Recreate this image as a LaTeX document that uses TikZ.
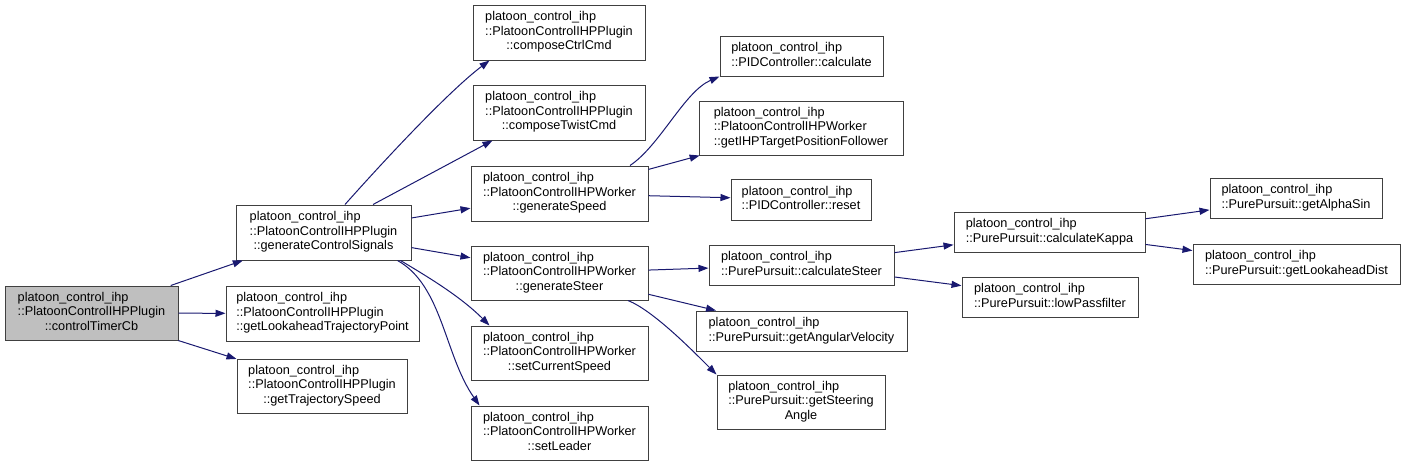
\documentclass[tikz,border=0pt]{standalone}
\usepackage{fontspec}
\setmainfont{Liberation Sans}
\usepackage{xcolor}
\usepackage{tikz}
\usetikzlibrary{arrows.meta}
\definecolor{callblue}{RGB}{25, 25, 112}
\definecolor{boxgrey}{RGB}{64, 64, 64}
\definecolor{rootfill}{RGB}{191, 191, 191}
\newcommand{\fnlabel}[2]{\begin{tabular}{@{}l@{}}#1\\\multicolumn{1}{@{}c@{}}{#2}\end{tabular}}

\begin{document}
\begin{tikzpicture}[x=1pt, y=-1pt,
    every node/.style={font=\fontsize{12.7}{14.5}\selectfont},
    fnbox/.style={draw=boxgrey, fill=white, line width=1pt, inner sep=0pt},
    call/.style={-{Triangle[length=10pt,width=7pt]}, draw=callblue, line width=1pt}]
    \useasboundingbox (0,0) rectangle (1405,467);

    % Root function
    \node[fnbox, fill=rootfill, minimum width=173pt, minimum height=54pt] (timer) at (91.5,313) {\fnlabel{platoon\_control\_ihp\\::PlatoonControlIHPPlugin}{::controlTimerCb}};

    % Plugin functions
    \node[fnbox, minimum width=175pt, minimum height=55pt] (ctrlsig) at (323.5,232.5) {\fnlabel{platoon\_control\_ihp\\::PlatoonControlIHPPlugin}{::generateControlSignals}};
    \node[fnbox, minimum width=193pt, minimum height=55pt] (lookpt) at (322.5,313.5) {\fnlabel{platoon\_control\_ihp\\::PlatoonControlIHPPlugin}{::getLookaheadTrajectoryPoint}};
    \node[fnbox, minimum width=170pt, minimum height=54pt] (trajspeed) at (322,386) {\fnlabel{platoon\_control\_ihp\\::PlatoonControlIHPPlugin}{::getTrajectorySpeed}};

    % Commands and worker calls
    \node[fnbox, minimum width=172pt, minimum height=55pt] (ctrlcmd) at (559,32.5) {\fnlabel{platoon\_control\_ihp\\::PlatoonControlIHPPlugin}{::composeCtrlCmd}};
    \node[fnbox, minimum width=172pt, minimum height=55pt] (twistcmd) at (559,112.5) {\fnlabel{platoon\_control\_ihp\\::PlatoonControlIHPPlugin}{::composeTwistCmd}};
    \node[fnbox, minimum width=177pt, minimum height=55pt] (genspeed) at (559.5,193.5) {\fnlabel{platoon\_control\_ihp\\::PlatoonControlIHPWorker}{::generateSpeed}};
    \node[fnbox, minimum width=177pt, minimum height=54pt] (gensteer) at (559.5,273) {\fnlabel{platoon\_control\_ihp\\::PlatoonControlIHPWorker}{::generateSteer}};
    \node[fnbox, minimum width=177pt, minimum height=54pt] (curspeed) at (559.5,353) {\fnlabel{platoon\_control\_ihp\\::PlatoonControlIHPWorker}{::setCurrentSpeed}};
    \node[fnbox, minimum width=177pt, minimum height=54pt] (leader) at (559.5,433) {\fnlabel{platoon\_control\_ihp\\::PlatoonControlIHPWorker}{::setLeader}};

    % Controller and pursuit calls
    \node[fnbox, minimum width=163pt, minimum height=40pt] (pidcalc) at (801.5,56) {\fnlabel{platoon\_control\_ihp}{::PIDController::calculate}};
    \node[fnbox, minimum width=204pt, minimum height=54pt] (targetpos) at (801,128) {\fnlabel{platoon\_control\_ihp\\::PlatoonControlIHPWorker}{::getIHPTargetPositionFollower}};
    \node[fnbox, minimum width=140pt, minimum height=41pt] (pidreset) at (801,199.5) {\fnlabel{platoon\_control\_ihp}{::PIDController::reset}};
    \node[fnbox, minimum width=185pt, minimum height=40pt] (calcsteer) at (801.5,265) {\fnlabel{platoon\_control\_ihp}{::PurePursuit::calculateSteer}};
    \node[fnbox, minimum width=211pt, minimum height=40pt] (angvel) at (801.5,331) {\fnlabel{platoon\_control\_ihp}{::PurePursuit::getAngularVelocity}};
    \node[fnbox, minimum width=168pt, minimum height=54pt] (steerangle) at (801,402) {\fnlabel{platoon\_control\_ihp\\::PurePursuit::getSteering}{Angle}};

    % Steering helpers
    \node[fnbox, minimum width=191pt, minimum height=40pt] (kappa) at (1049.5,232) {\fnlabel{platoon\_control\_ihp}{::PurePursuit::calculateKappa}};
    \node[fnbox, minimum width=176pt, minimum height=40pt] (lowpass) at (1050,297) {\fnlabel{platoon\_control\_ihp}{::PurePursuit::lowPassfilter}};
    \node[fnbox, minimum width=172pt, minimum height=40pt] (alphasin) at (1296,198) {\fnlabel{platoon\_control\_ihp}{::PurePursuit::getAlphaSin}};
    \node[fnbox, minimum width=207pt, minimum height=40pt] (lookdist) at (1296.5,264) {\fnlabel{platoon\_control\_ihp}{::PurePursuit::getLookaheadDist}};

    % Calls
    \draw[call] (timer) -- (ctrlsig);
    \draw[call] (timer) -- (lookpt);
    \draw[call] (timer) -- (trajspeed);
    \draw[call] ([xshift=21.5pt]ctrlsig.north) .. controls +(40,-45) and +(-40,30) .. ([xshift=17pt]ctrlcmd.south west);
    \draw[call] ([xshift=49.5pt]ctrlsig.north) -- ([xshift=20pt]twistcmd.south west);
    \draw[call] (ctrlsig) -- (genspeed);
    \draw[call] (ctrlsig) -- (gensteer);
    \draw[call] ([xshift=-11pt]ctrlsig.south east) .. controls +(25,15) and +(-30,-30) .. ([xshift=19pt]curspeed.north west);
    \draw[call] ([xshift=-14pt]ctrlsig.south east) .. controls +(45,25) and +(-35,-50) .. ([xshift=9pt]leader.north west);
    \draw[call] ([xshift=70.5pt]genspeed.north) .. controls +(30,-20) and +(-35,15) .. (pidcalc.south west);
    \draw[call] (genspeed) -- (targetpos);
    \draw[call] (genspeed) -- (pidreset);
    \draw[call] (gensteer) -- (calcsteer);
    \draw[call] (gensteer) -- (angvel);
    \draw[call] ([xshift=68.5pt]gensteer.south) .. controls +(25,10) and +(-25,-25) .. (steerangle.north west);
    \draw[call] (calcsteer) -- (kappa);
    \draw[call] (calcsteer) -- (lowpass);
    \draw[call] (kappa) -- (alphasin);
    \draw[call] (kappa) -- (lookdist);
\end{tikzpicture}
\end{document}
